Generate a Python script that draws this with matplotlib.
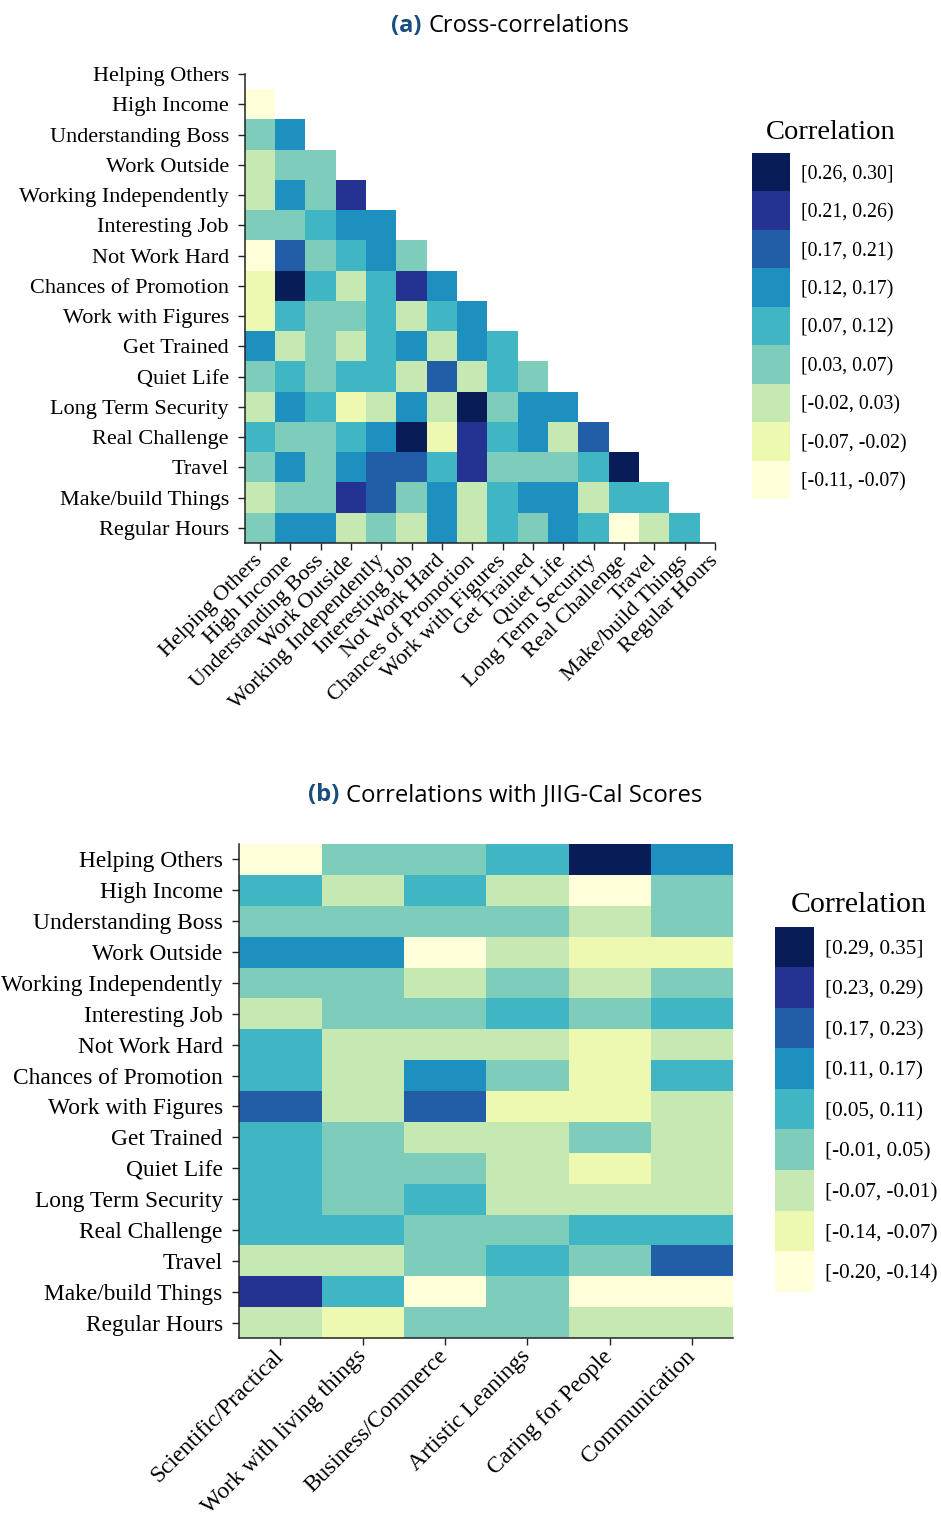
import numpy as np
import matplotlib.pyplot as plt
from matplotlib.colors import ListedColormap, BoundaryNorm
from matplotlib.cm import ScalarMappable

W, H = 941, 1519

items = ["Helping Others", "High Income", "Understanding Boss", "Work Outside",
         "Working Independently", "Interesting Job", "Not Work Hard",
         "Chances of Promotion", "Work with Figures", "Get Trained", "Quiet Life",
         "Long Term Security", "Real Challenge", "Travel", "Make/build Things",
         "Regular Hours"]

jiig_scales = ["Scientific/Practical", "Work with living things", "Business/Commerce",
               "Artistic Leanings", "Caring for People", "Communication"]

# lower triangle of the item cross-correlation matrix (row i has i values)
cross_corr_rows = [
    [],
    [-0.10],
    [0.05, 0.14],
    [0.01, 0.04, 0.05],
    [0.00, 0.15, 0.06, 0.24],
    [0.04, 0.05, 0.10, 0.13, 0.14],
    [-0.08, 0.19, 0.05, 0.09, 0.13, 0.06],
    [-0.04, 0.29, 0.10, 0.01, 0.08, 0.23, 0.15],
    [-0.05, 0.11, 0.06, 0.04, 0.09, 0.02, 0.10, 0.13],
    [0.14, 0.00, 0.05, 0.01, 0.08, 0.16, -0.01, 0.13, 0.08],
    [0.06, 0.10, 0.04, 0.09, 0.11, 0.02, 0.18, 0.00, 0.10, 0.05],
    [0.02, 0.13, 0.08, -0.05, 0.00, 0.15, 0.01, 0.27, 0.06, 0.14, 0.13],
    [0.10, 0.04, 0.06, 0.11, 0.13, 0.28, -0.03, 0.22, 0.09, 0.15, 0.00, 0.20],
    [0.05, 0.14, 0.06, 0.16, 0.18, 0.19, 0.08, 0.25, 0.05, 0.06, 0.04, 0.11, 0.28],
    [0.01, 0.05, 0.04, 0.22, 0.20, 0.05, 0.13, 0.02, 0.09, 0.14, 0.15, -0.01, 0.10, 0.09],
    [0.06, 0.15, 0.13, 0.02, 0.04, 0.00, 0.14, -0.01, 0.11, 0.05, 0.16, 0.08, -0.10, 0.01, 0.10],
]

# items (rows) x JIIG-Cal scales (columns)
jiig_corr = [
    [-0.18, 0.02, 0.03, 0.08, 0.33, 0.14],
    [0.07, -0.03, 0.09, -0.04, -0.16, 0.01],
    [0.03, 0.02, 0.04, 0.01, -0.02, 0.03],
    [0.13, 0.15, -0.17, -0.05, -0.09, -0.08],
    [0.02, 0.04, -0.03, 0.01, -0.05, 0.03],
    [-0.04, 0.03, 0.02, 0.09, 0.04, 0.07],
    [0.06, -0.02, -0.03, -0.02, -0.11, -0.04],
    [0.08, -0.05, 0.12, 0.03, -0.12, 0.06],
    [0.19, -0.06, 0.21, -0.09, -0.10, -0.03],
    [0.09, 0.02, -0.04, -0.02, 0.00, -0.05],
    [0.07, 0.01, 0.03, -0.03, -0.08, -0.04],
    [0.10, 0.04, 0.06, -0.02, -0.06, -0.03],
    [0.08, 0.06, 0.02, 0.01, 0.09, 0.07],
    [-0.03, -0.02, 0.03, 0.08, 0.04, 0.18],
    [0.25, 0.07, -0.19, 0.00, -0.15, -0.16],
    [-0.05, -0.10, 0.02, 0.01, -0.04, -0.06],
]

cross_edges = [-0.11, -0.07, -0.02, 0.03, 0.07, 0.12, 0.17, 0.21, 0.26, 0.30]
jiig_edges = [-0.20, -0.14, -0.07, -0.01, 0.05, 0.11, 0.17, 0.23, 0.29, 0.35]

plt.rcParams['font.family'] = 'Liberation Serif'
TITLE_FONT = 'Open Sans'
LABEL_BLUE = '#184d80'

cmap = ListedColormap(plt.get_cmap('YlGnBu')(np.linspace(0, 1, 9)))


def px_axes(fig, x0, y0, x1, y1):
    return fig.add_axes([x0 / W, 1 - y1 / H, (x1 - x0) / W, (y1 - y0) / H])


def edge_labels(edges):
    labs = []
    for i in range(len(edges) - 1):
        close = "]" if i == len(edges) - 2 else ")"
        labs.append(f"[{edges[i]:.2f}, {edges[i + 1]:.2f}{close}")
    return labs


def style_axes(ax, fs, ypad):
    for s in ["top", "right"]:
        ax.spines[s].set_visible(False)
    for s in ["left", "bottom"]:
        ax.spines[s].set_linewidth(1.1)
        ax.spines[s].set_color("#222222")
    ax.tick_params(length=5, width=1.0, color="#222222", labelsize=fs)
    ax.tick_params(axis="y", pad=ypad)
    ax.tick_params(axis="x", pad=6)


def legend_bar(fig, box, edges, title, title_xy, fs, title_fs):
    cax = px_axes(fig, *box)
    norm = BoundaryNorm(edges, cmap.N)
    cb = fig.colorbar(ScalarMappable(norm=norm, cmap=cmap), cax=cax,
                      spacing="uniform", boundaries=edges,
                      ticks=[(edges[i] + edges[i + 1]) / 2 for i in range(len(edges) - 1)])
    cb.set_ticklabels(edge_labels(edges))
    cb.minorticks_off()
    cb.outline.set_visible(False)
    cax.tick_params(which="both", length=0, labelsize=fs, pad=8)
    fig.text(title_xy[0] / W, 1 - title_xy[1] / H, title, ha="center",
             va="baseline", fontsize=title_fs)


def panel_title(fig, tag, text, cx, base_y, fs):
    r = fig.canvas.get_renderer()
    t1 = fig.text(0, 1 - base_y / H, tag, fontsize=fs, family=TITLE_FONT,
                  fontweight="bold", color=LABEL_BLUE, va="baseline")
    t2 = fig.text(0, 1 - base_y / H, text, fontsize=fs, family=TITLE_FONT,
                  va="baseline")
    w1 = t1.get_window_extent(r).width
    w2 = t2.get_window_extent(r).width
    gap = 6.5
    x0 = cx - (w1 + gap + w2) / 2
    t1.set_x(x0 / W)
    t2.set_x((x0 + w1 + gap) / W)


fig = plt.figure(figsize=(W / 100, H / 100), dpi=100)

# ---- (a) cross-correlations, lower triangle ----
n = len(items)
M = np.full((n, n), np.nan)
for i, row in enumerate(cross_corr_rows):
    M[i, :len(row)] = row

ax1 = px_axes(fig, 244.8, 58.9, 730.0, 543.0)
ax1.pcolormesh(np.arange(n + 1), np.arange(n + 1), np.ma.masked_invalid(M),
               cmap=cmap, norm=BoundaryNorm(cross_edges, cmap.N))
ax1.set_xlim(0, n)
ax1.set_ylim(n, 0)
ax1.set_xticks(np.arange(n) + 0.5)
ax1.set_yticks(np.arange(n) + 0.5)
ax1.set_xticklabels(items, rotation=45, ha="right", va="center", rotation_mode="anchor")
ax1.set_yticklabels(items)
style_axes(ax1, 16, 6.5)
ax1.spines["left"].set_bounds(n, 0.5)
ax1.spines["bottom"].set_bounds(0, n - 0.5)

legend_bar(fig, (752, 152.7, 789.5, 499.0), cross_edges, "Correlation", (831, 139), 14.3, 20.5)
panel_title(fig, "(a)", "Cross-correlations", 510, 32, 17)

# ---- (b) correlations with JIIG-Cal scores ----
J = np.array(jiig_corr)
ax2 = px_axes(fig, 239.3, 844.0, 733.3, 1338.0)
ax2.pcolormesh(np.arange(J.shape[1] + 1), np.arange(J.shape[0] + 1), J,
               cmap=cmap, norm=BoundaryNorm(jiig_edges, cmap.N))
ax2.set_xlim(0, J.shape[1])
ax2.set_ylim(J.shape[0], 0)
ax2.set_xticks(np.arange(J.shape[1]) + 0.5)
ax2.set_yticks(np.arange(J.shape[0]) + 0.5)
ax2.set_xticklabels(jiig_scales, rotation=45, ha="right", va="center", rotation_mode="anchor")
ax2.set_yticklabels(items)
style_axes(ax2, 16.8, 7)

legend_bar(fig, (775, 926.7, 814, 1291.7), jiig_edges, "Correlation", (858.7, 912), 15.2, 21.5)
panel_title(fig, "(b)", "Correlations with JIIG-Cal Scores", 505, 801, 17.2)

fig.savefig("out.png", dpi=100)
